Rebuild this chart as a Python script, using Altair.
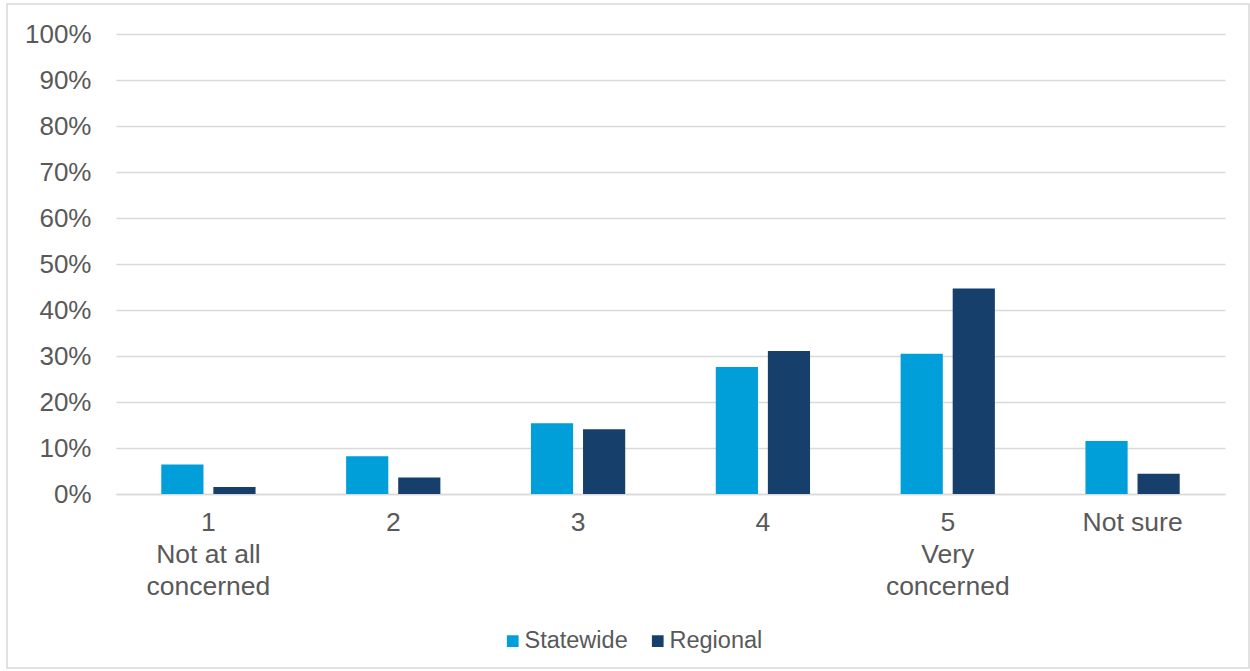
import altair as alt
import pandas as pd

# Survey responses: level of concern, statewide vs regional
categories = ["1|Not at all|concerned", "2", "3", "4", "5|Very|concerned", "Not sure"]
statewide = [6.4, 8.2, 15.4, 27.6, 30.5, 11.5]
regional = [1.5, 3.6, 14.1, 31.1, 44.7, 4.4]
series = ["Statewide", "Regional"]
colors = ["#009FDA", "#173F6C"]

rows = []
for cat, s, r in zip(categories, statewide, regional):
    rows.append({"category": cat, "group": "Statewide", "value": s / 100})
    rows.append({"category": cat, "group": "Regional", "value": r / 100})
df = pd.DataFrame(rows)

W, H = 1109, 460
LEFT, TOP = 116, 34
TOTAL_W, TOTAL_H = 1250, 671
FONT = "Liberation Sans"
TEXT = "#595959"

bars = alt.Chart(df).mark_bar().encode(
    x=alt.X(
        "category:N",
        sort=categories,
        scale=alt.Scale(paddingInner=0.49, paddingOuter=0.245),
        axis=alt.Axis(
            title=None,
            labelExpr="split(datum.label, '|')",
            labelAngle=0,
            labelFontSize=26.5,
            labelColor=TEXT,
            labelFont=FONT,
            labelLineHeight=32,
            labelPadding=15,
            labelBaseline="top",
            ticks=False,
            domain=True,
            domainColor="#D9D9D9",
            domainWidth=1.5,
            grid=False,
        ),
    ),
    xOffset=alt.XOffset(
        "group:N",
        sort=series,
        scale=alt.Scale(paddingInner=0.19, paddingOuter=0),
    ),
    y=alt.Y(
        "value:Q",
        scale=alt.Scale(domain=[0, 1], nice=False),
        axis=alt.Axis(
            title=None,
            format=".0%",
            values=[i / 10 for i in range(11)],
            labelFontSize=26,
            labelColor=TEXT,
            labelFont=FONT,
            labelPadding=25,
            ticks=False,
            domain=False,
            grid=True,
            gridColor="#D9D9D9",
            gridWidth=1.5,
        ),
    ),
    color=alt.Color(
        "group:N",
        sort=series,
        scale=alt.Scale(domain=series, range=colors),
        legend=alt.Legend(
            title=None,
            orient="none",
            direction="horizontal",
            legendX=385,
            legendY=595,
            padding=0,
            symbolType="square",
            symbolSize=137,
            symbolStrokeWidth=0,
            labelFontSize=23.5,
            labelColor=TEXT,
            labelFont=FONT,
            columnPadding=18,
            labelOffset=0,
        ),
    ),
)

# outer frame around the whole figure
frame = alt.Chart(pd.DataFrame({"k": [0]})).mark_rect(
    fill=None, stroke="#D9D9D9", strokeWidth=1.5
).encode(
    x=alt.value(7 - LEFT),
    x2=alt.value(TOTAL_W - 1 - LEFT),
    y=alt.value(4 - TOP),
    y2=alt.value(668 - TOP),
)

chart = alt.layer(bars, frame).properties(
    width=W,
    height=H,
    autosize=alt.AutoSizeParams(type="none"),
    padding={"left": LEFT, "top": TOP, "right": TOTAL_W - LEFT - W, "bottom": TOTAL_H - TOP - H},
    background="white",
).configure_view(stroke=None)

chart.save("out.html", embed_options={"renderer": "svg", "actions": False})
